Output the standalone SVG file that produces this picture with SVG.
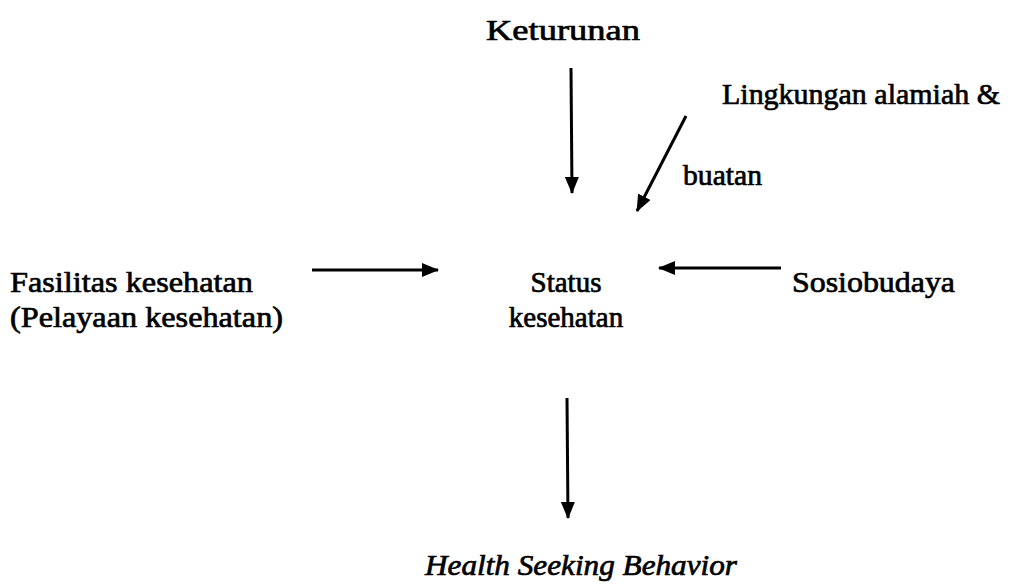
<svg xmlns="http://www.w3.org/2000/svg" width="1029" height="587" viewBox="0 0 1029 587">
<style>
.t{font-family:"Liberation Serif","Times New Roman",serif;font-size:30px;fill:#000;stroke:#000;stroke-width:0.7}
.s{font-size:29px}
.m{text-anchor:middle}
.i{font-style:italic}
.c{stroke:#000;stroke-width:3;fill:none}
</style>
<defs>
<marker id="ah" viewBox="0 0 17 14" refX="16" refY="7" markerWidth="17" markerHeight="14" markerUnits="userSpaceOnUse" orient="auto">
<path d="M0,0 L17,7 L0,14 Z" fill="#000"/>
</marker>
</defs>
<rect width="1029" height="587" fill="#fff"/>
<g id="connectors">
<line class="c" x1="571" y1="68" x2="572" y2="193" marker-end="url(#ah)"/>
<line class="c" x1="686" y1="116" x2="637" y2="211" marker-end="url(#ah)"/>
<line class="c" x1="312" y1="270" x2="438" y2="270" marker-end="url(#ah)"/>
<line class="c" x1="781" y1="268" x2="659" y2="268" marker-end="url(#ah)"/>
<line class="c" x1="567" y1="398" x2="568" y2="518" marker-end="url(#ah)"/>
</g>
<g id="keturunan"><text class="t" x="486" y="40" textLength="154" lengthAdjust="spacingAndGlyphs">Keturunan</text></g>
<g id="lingkungan">
<text class="t" x="722" y="104" textLength="278" lengthAdjust="spacingAndGlyphs">Lingkungan alamiah &amp;</text>
<text class="t" x="683" y="185" textLength="79" lengthAdjust="spacingAndGlyphs">buatan</text>
</g>
<g id="fasilitas">
<text class="t" x="10" y="292" textLength="243" lengthAdjust="spacingAndGlyphs">Fasilitas kesehatan</text>
<text class="t" x="10" y="327" textLength="273" lengthAdjust="spacingAndGlyphs">(Pelayaan kesehatan)</text>
</g>
<g id="status">
<text class="t s m" x="566" y="292">Status</text>
<text class="t s m" x="566" y="327">kesehatan</text>
</g>
<g id="sosiobudaya"><text class="t" x="792" y="292" textLength="163" lengthAdjust="spacingAndGlyphs">Sosiobudaya</text></g>
<g id="hsb"><text class="t i" x="425" y="575" textLength="312" lengthAdjust="spacingAndGlyphs">Health Seeking Behavior</text></g>
</svg>
